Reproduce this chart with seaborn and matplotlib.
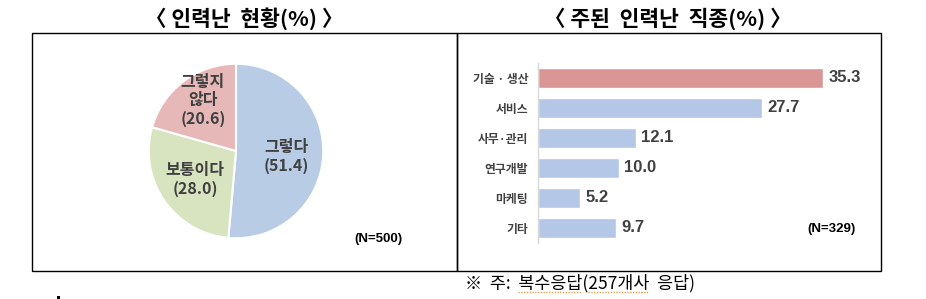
import matplotlib
matplotlib.use("Agg")
import matplotlib.pyplot as plt
from matplotlib.patches import Rectangle
from matplotlib.lines import Line2D
import seaborn as sns
import pandas as pd

# ---- data ----
pie_labels = ["그렇다", "보통이다", "그렇지\n않다"]
pie_values = [51.4, 28.0, 20.6]
pie_colors = ["#b9cce6", "#d8e4bf", "#e6b9b8"]
pie_label_pos = [(0.58, -0.06), (-0.47, -0.33), (-0.38, 0.58)]

bar_categories = ["기술 · 생산", "서비스", "사무·관리", "연구개발", "마케팅", "기타"]
bar_values = [35.3, 27.7, 12.1, 10.0, 5.2, 9.7]
bar_colors = ["#d99694", "#b4c7e7", "#b4c7e7", "#b4c7e7", "#b4c7e7", "#b4c7e7"]

left_title = "〈 인력난  현황(%) 〉"
right_title = "〈 주된  인력난  직종(%) 〉"
left_note = "(N=500)"
right_note = "(N=329)"
footnote = "※  주:  복수응답(257개사  응답)"
underlined = ["복수응답", "257개사"]

sns.set_theme(style="white")
KR = ["Noto Sans CJK KR", "DejaVu Sans"]
NUM = ["Liberation Sans", "Noto Sans CJK KR", "DejaVu Sans"]
plt.rcParams["font.family"] = KR

W, H = 926, 299
fig = plt.figure(figsize=(W / 100, H / 100), dpi=100)
fig.patch.set_facecolor("white")

def fx(px):
    return px / W

def fy(py):
    return 1 - py / H

# frames
fig.add_artist(Rectangle((fx(32), fy(271)), fx(457 - 32), (271 - 33) / H,
                         fill=False, edgecolor="black", linewidth=1.0,
                         transform=fig.transFigure))
fig.add_artist(Rectangle((fx(457), fy(271)), fx(881 - 457), (271 - 33) / H,
                         fill=False, edgecolor="black", linewidth=1.0,
                         transform=fig.transFigure))
fig.add_artist(Rectangle((fx(57), fy(299)), fx(3), 3 / H, facecolor="black",
                         edgecolor="none", transform=fig.transFigure))

# titles
fig.text(fx(244), fy(19), left_title, ha="center", va="center",
         fontsize=15.5, fontweight="bold", color="black")
fig.text(fx(668), fy(19), right_title, ha="center", va="center",
         fontsize=15.5, fontweight="bold", color="black")

# ---- pie ----
axp = fig.add_axes([fx(147), fy(240), fx(178), 178 / H])
axp.pie(pie_values, colors=pie_colors, startangle=90, counterclock=False,
        wedgeprops=dict(edgecolor="white", linewidth=1.5))
axp.set_xlim(-1.02, 1.02)
axp.set_ylim(-1.02, 1.02)
axp.set_aspect("equal")
axp.axis("off")
for lab, val, (x, y) in zip(pie_labels, pie_values, pie_label_pos):
    axp.text(x, y, f"{lab}\n({val:.1f})", ha="center", va="center",
             fontsize=11.5, fontweight="bold", color="#404040", linespacing=1.2)
fig.text(fx(378), fy(239), left_note, ha="center", va="center",
         fontsize=9.5, fontweight="bold", color="black", family=NUM)

# ---- bars ----
axb = fig.add_axes([fx(538), fy(243), fx(340), 180 / H])
df = pd.DataFrame({"cat": bar_categories, "val": bar_values})
sns.barplot(data=df, x="val", y="cat", hue="cat", palette=bar_colors,
            legend=False, ax=axb, width=0.65, saturation=1)
axb.set_xlim(0, 340 / 8.07)
axb.set_xlabel("")
axb.set_ylabel("")
axb.set_xticks([])
for s in ["top", "right", "bottom"]:
    axb.spines[s].set_visible(False)
axb.spines["left"].set_color("#d9d9d9")
axb.spines["left"].set_linewidth(1.0)
axb.tick_params(axis="y", length=0, pad=7)
for t in axb.get_yticklabels():
    t.set_fontsize(8.5)
    t.set_fontweight("bold")
    t.set_color("#404040")
for cont in axb.containers:
    axb.bar_label(cont, fmt="%.1f", padding=4, fontsize=12,
                  fontweight="bold", color="#404040", family=NUM)
fig.text(fx(832), fy(229), right_note, ha="center", va="center",
         fontsize=9.5, fontweight="bold", color="black", family=NUM)

# footnote
FN_SIZE = 12.5
fig.text(fx(465), fy(283), footnote, ha="left", va="center",
         fontsize=FN_SIZE, color="black")

# spell-check style dotted underlines under words, measured from the text
renderer = fig.canvas.get_renderer()

def text_width(s):
    t = fig.text(0, 0, s, fontsize=FN_SIZE)
    w = t.get_window_extent(renderer).width
    t.remove()
    return w

for word in underlined:
    i = footnote.index(word)
    x0 = 465 + text_width(footnote[:i])
    x1 = 465 + text_width(footnote[:i + len(word)])
    fig.add_artist(Line2D([fx(x0), fx(x1)], [fy(292), fy(292)],
                          transform=fig.transFigure, color="#e0a050",
                          linewidth=1.0, linestyle=(0, (1, 1))))

fig.savefig("out.png", dpi=100, facecolor="white")
